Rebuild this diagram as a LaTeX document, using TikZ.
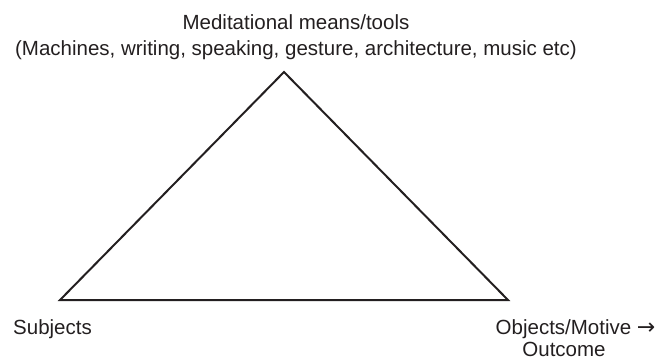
\documentclass[tikz,border=0pt]{standalone}
\usepackage{fontspec}
\setmainfont{Liberation Sans}
\newfontfamily\arrowfont{DejaVu Sans}
\definecolor{ink}{RGB}{35,31,32}

\begin{document}
\begin{tikzpicture}[x=1pt, y=-1pt,
    lbl/.style={anchor=base, inner sep=0, text=ink, font=\fontsize{20.5}{26}\selectfont}]
\useasboundingbox (0,0) rectangle (661,360);
% corners of the triangle
\coordinate (T) at (284,72);
\coordinate (S) at (60,300);
\coordinate (O) at (508,300);
\draw[line width=2, ink] (S) -- (T) -- (O) -- cycle;
% labels
\node[lbl] (means) at (296,29) {Meditational means/tools};
\node[lbl] (tools) at (296,55) {(Machines, writing, speaking, gesture, architecture, music etc)};
\node[lbl] (subj) at (52.5,334) {Subjects};
\node[lbl] (obj) at (563.5,334) {Objects/Motive\rlap{ {\arrowfont\fontsize{22}{26}\selectfont →}}};
\node[lbl] (outc) at (564,356.5) {Outcome};
\end{tikzpicture}
\end{document}
